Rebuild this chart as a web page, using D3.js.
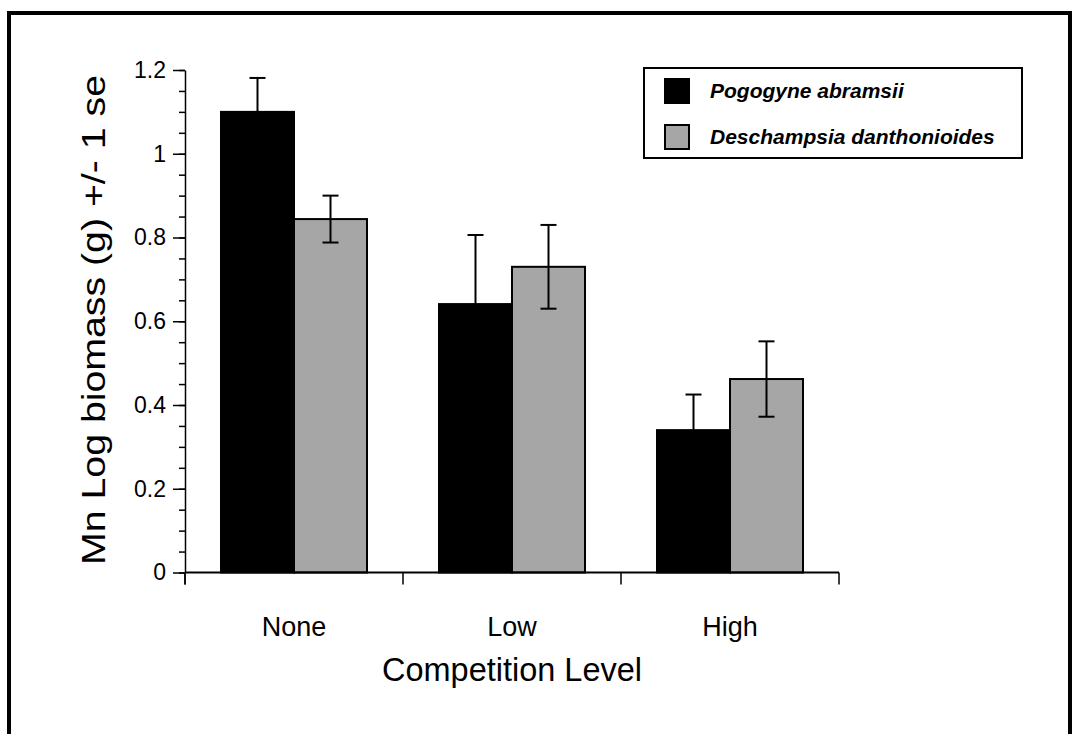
<!DOCTYPE html>
<html>
<head>
<meta charset="utf-8">
<script src="https://cdn.jsdelivr.net/npm/d3@7"></script>
<style>
  body { margin: 0; background: #fff; }
  text { font-family: "Liberation Sans", Arial, Helvetica, sans-serif; fill: #000; }
</style>
</head>
<body>
<div id="chart"></div>
<script>
// data
const levels = ["None", "Low", "High"];
const species = ["Pogogyne abramsii", "Deschampsia danthonioides"];
const pogogyneMean = [1.10, 0.641, 0.340];
const pogogyneSE = [0.081, 0.165, 0.085];
const deschampsiaMean = [0.844, 0.730, 0.462];
const deschampsiaSE = [0.056, 0.100, 0.090];
const yTicks = [0, 0.2, 0.4, 0.6, 0.8, 1, 1.2];
const colors = ["#000000", "#a6a6a6"];

const width = 1075, height = 734;

const svg = d3.select("#chart").append("svg")
    .attr("width", width)
    .attr("height", height);

// outer frame (bottom runs off the page)
svg.append("rect")
    .attr("x", 9).attr("y", 13)
    .attr("width", 1061).attr("height", 740)
    .attr("fill", "none")
    .attr("stroke", "#000")
    .attr("stroke-width", 4);

const plot = {left: 185, right: 839, top: 70, bottom: 572.5};

const x = d3.scaleBand()
    .domain(levels)
    .range([plot.left, plot.right])
    .paddingInner(0)
    .paddingOuter(0);

const xInner = d3.scaleBand()
    .domain(species)
    .range([36, x.bandwidth() - 36]);

const y = d3.scaleLinear()
    .domain([0, 1.2])
    .range([plot.bottom, plot.top]);

// build the table of bars
const rows = [];
levels.forEach((lv, i) => {
    rows.push({level: lv, sp: species[0], mean: pogogyneMean[i], se: pogogyneSE[i], c: 0});
    rows.push({level: lv, sp: species[1], mean: deschampsiaMean[i], se: deschampsiaSE[i], c: 1});
});

// bars
svg.append("g").selectAll("rect")
    .data(rows)
    .enter().append("rect")
    .attr("x", d => x(d.level) + xInner(d.sp))
    .attr("y", d => y(d.mean))
    .attr("width", xInner.bandwidth())
    .attr("height", d => y(0) - y(d.mean))
    .attr("fill", d => colors[d.c])
    .attr("stroke", "#000")
    .attr("stroke-width", 2);

// error bars
const eb = svg.append("g")
    .attr("stroke", "#000")
    .attr("stroke-width", 2)
    .selectAll("g")
    .data(rows)
    .enter().append("g")
    .attr("transform", d => `translate(${x(d.level) + xInner(d.sp) + xInner.bandwidth() / 2},0)`);

eb.append("line")
    .attr("y1", d => y(d.mean + d.se))
    .attr("y2", d => y(d.mean - d.se));
eb.append("line")
    .attr("x1", -8).attr("x2", 8)
    .attr("y1", d => y(d.mean + d.se))
    .attr("y2", d => y(d.mean + d.se));
eb.append("line")
    .attr("x1", -8).attr("x2", 8)
    .attr("y1", d => y(d.mean - d.se))
    .attr("y2", d => y(d.mean - d.se));

// y axis: minor ticks every 0.05
const yAxisG = svg.append("g").attr("transform", `translate(${plot.left},0)`);
yAxisG.append("g")
    .call(d3.axisLeft(y).tickValues(d3.range(0, 1.2001, 0.05)).tickSize(6).tickFormat(""))
    .call(g => g.select(".domain").remove());
yAxisG.append("g")
    .call(d3.axisLeft(y).tickValues(yTicks).tickSize(12).tickPadding(7).tickSizeOuter(0)
        .tickFormat(d3.format("~g")))
    .call(g => g.selectAll("text").attr("font-size", 23).attr("font-family", null));
yAxisG.selectAll("line, path").attr("stroke", "#000").attr("stroke-width", 1.5);
yAxisG.append("line")
    .attr("y1", plot.bottom).attr("y2", plot.bottom + 12)
    .attr("stroke", "#000").attr("stroke-width", 1.5);

// x axis
const xAxisG = svg.append("g").attr("transform", `translate(0,${plot.bottom})`);
xAxisG.append("line")
    .attr("x1", plot.left).attr("x2", plot.right)
    .attr("stroke", "#000").attr("stroke-width", 2);
xAxisG.selectAll("line.tk")
    .data(levels.map(d => x(d)).concat([plot.right]))
    .enter().append("line")
    .attr("class", "tk")
    .attr("x1", d => d).attr("x2", d => d)
    .attr("y1", 0).attr("y2", 12)
    .attr("stroke", "#000").attr("stroke-width", 1.5);
xAxisG.selectAll("text")
    .data(levels)
    .enter().append("text")
    .attr("x", d => x(d) + x.bandwidth() / 2)
    .attr("y", 63)
    .attr("text-anchor", "middle")
    .attr("font-size", 27)
    .text(d => d);

// axis titles
svg.append("text")
    .attr("x", (plot.left + plot.right) / 2)
    .attr("y", 681)
    .attr("text-anchor", "middle")
    .attr("font-size", 33)
    .attr("textLength", 260)
    .attr("lengthAdjust", "spacingAndGlyphs")
    .text("Competition Level");

svg.append("text")
    .attr("transform", `translate(105,320) rotate(-90)`)
    .attr("text-anchor", "middle")
    .attr("font-size", 34)
    .attr("textLength", 490)
    .attr("lengthAdjust", "spacingAndGlyphs")
    .text("Mn Log biomass (g) +/- 1 se");

// legend
const legend = svg.append("g").attr("transform", "translate(644,68)");
legend.append("rect")
    .attr("width", 378).attr("height", 90)
    .attr("fill", "#fff").attr("stroke", "#000").attr("stroke-width", 2);
const li = legend.selectAll("g.item")
    .data(species)
    .enter().append("g")
    .attr("class", "item")
    .attr("transform", (d, i) => `translate(0,${11 + i * 46})`);
li.append("rect")
    .attr("x", 21).attr("width", 24).attr("height", 24)
    .attr("fill", (d, i) => colors[i])
    .attr("stroke", "#000").attr("stroke-width", 2);
li.append("text")
    .attr("x", 66).attr("y", 19)
    .attr("font-size", 21)
    .attr("font-weight", "bold")
    .attr("font-style", "italic")
    .text(d => d);
</script>
</body>
</html>
